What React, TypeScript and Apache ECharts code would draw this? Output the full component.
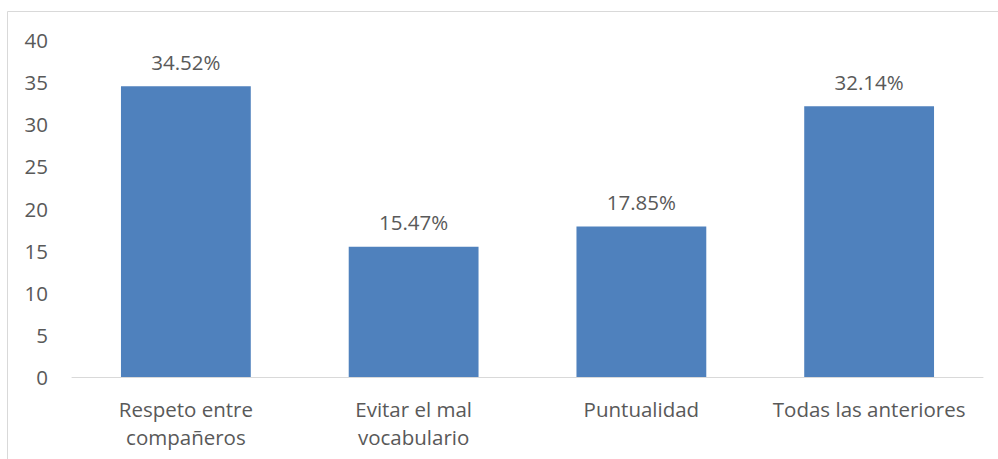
import React, { useEffect, useRef } from "react";
import * as echarts from "echarts";

const categories = ["Respeto entre\ncompañeros", "Evitar el mal\nvocabulario", "Puntualidad", "Todas las anteriores"];
const values = [34.52, 15.47, 17.85, 32.14];
const labels = ["34.52%", "15.47%", "17.85%", "32.14%"];

const FONT = "'Open Sans', 'Noto Sans', sans-serif";
const FS = 20.5;

export default function App() {
  const ref = useRef<HTMLDivElement>(null);
  useEffect(() => {
    document.body.style.margin = "0";
    const chart = echarts.init(ref.current!, null, { renderer: "svg" });
    chart.setOption({
      animation: false,
      grid: { left: 72, right: 15, top: 40, bottom: 82, containLabel: false },
      graphic: [
        {
          type: "rect",
          shape: { x: 7.5, y: 11.5, width: 1200, height: 800 },
          style: { fill: "none", stroke: "#d9d9d9", lineWidth: 1 },
          silent: true,
        },
      ],
      xAxis: {
        type: "category",
        data: categories,
        axisLine: { show: true, lineStyle: { color: "#d9d9d9", width: 1 } },
        axisTick: { show: false },
        axisLabel: { color: "#595959", fontSize: FS, fontFamily: FONT, margin: 18, lineHeight: 28, interval: 0 },
      },
      yAxis: {
        type: "value",
        min: 0,
        max: 40,
        interval: 5,
        splitLine: { show: false },
        axisLine: { show: false },
        axisTick: { show: false },
        axisLabel: { color: "#595959", fontSize: FS, fontFamily: FONT, margin: 24 },
      },
      series: [
        {
          type: "bar",
          data: values,
          barWidth: "57%",
          itemStyle: { color: "#4f81bd" },
          label: {
            show: true,
            position: "top",
            distance: 14,
            color: "#595959",
            fontSize: FS,
            fontFamily: FONT,
            formatter: (p: any) => labels[p.dataIndex],
          },
        },
      ],
    });
    return () => chart.dispose();
  }, []);
  return <div ref={ref} style={{ width: 998, height: 459 }} />;
}
